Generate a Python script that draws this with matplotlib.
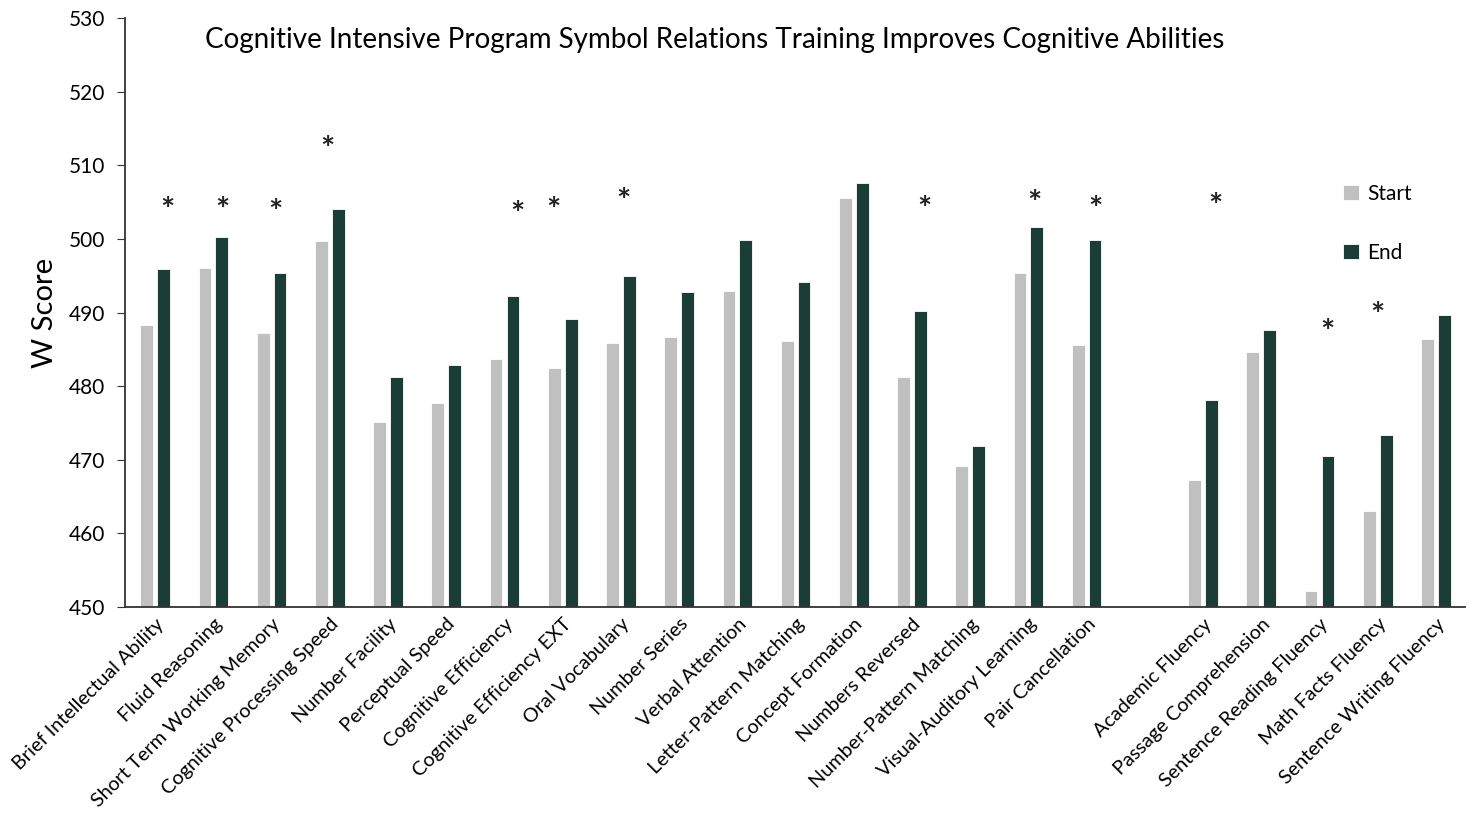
import numpy as np
import matplotlib
matplotlib.use("Agg")
import matplotlib.pyplot as plt

plt.rcParams['font.family'] = ['Lato', 'DejaVu Sans']

categories = ["Brief Intellectual Ability", "Fluid Reasoning", "Short Term Working Memory",
              "Cognitive Processing Speed", "Number Facility", "Perceptual Speed",
              "Cognitive Efficiency", "Cognitive Efficiency EXT", "Oral Vocabulary",
              "Number Series", "Verbal Attention", "Letter-Pattern Matching",
              "Concept Formation", "Numbers Reversed", "Number-Pattern Matching",
              "Visual-Auditory Learning", "Pair Cancellation", "",
              "Academic Fluency", "Passage Comprehension", "Sentence Reading Fluency",
              "Math Facts Fluency", "Sentence Writing Fluency"]

start = [488.3, 496.1, 487.2, 499.7, 475.1, 477.7, 483.7, 482.5, 485.9, 486.7, 492.9,
         486.1, 505.6, 481.3, 469.2, 495.3, 485.6, np.nan,
         467.3, 484.7, 452.2, 463.0, 486.4]
end = [495.9, 500.2, 495.3, 504.1, 481.2, 482.9, 492.2, 489.1, 495.0, 492.8, 499.9,
       494.1, 507.6, 490.2, 471.9, 501.6, 499.8, np.nan,
       478.1, 487.6, 470.5, 473.4, 489.6]

# significance stars: (slot position, height)
star_x = [0.21, 1.15, 2.06, 2.96, 6.22, 6.84, 8.04, 13.21, 15.10, 16.15, 18.21, 20.14, 21.0]
star_y = [503.7, 503.7, 503.4, 512.0, 503.2, 503.7, 504.9, 503.9, 504.6, 503.9, 504.3, 487.1, 489.5]

gray = '#BFC0BF'
green = '#1A3D35'

fig = plt.figure(figsize=(14.7, 8.17), dpi=100)
ax = fig.add_axes([0.085, 0.257, 0.9116, 0.721])

x = np.arange(len(categories))
w = 0.22
ax.bar(x - 0.145, start, w, color=gray, edgecolor='white', linewidth=0.6, label='Start')
ax.bar(x + 0.145, end, w, color=green, edgecolor='white', linewidth=0.6, label='End')

for sx, sy in zip(star_x, star_y):
    ax.text(sx, sy, '*', ha='center', va='center', fontsize=24, fontweight='bold', color='#222222')

ax.set_ylim(450, 530)
ax.set_xlim(-0.52, 22.5)
ax.set_yticks(np.arange(450, 531, 10))
ax.set_xticks(x)
ax.set_xticklabels(categories, rotation=45, ha='right', rotation_mode='anchor', fontsize=14.3)
ax.tick_params(axis='x', length=0, pad=6)
ax.tick_params(axis='y', labelsize=15, length=6, direction='out', color='#333333', pad=8)
for s in ['top', 'right']:
    ax.spines[s].set_visible(False)
for s in ['left', 'bottom']:
    ax.spines[s].set_color('#333333')
    ax.spines[s].set_linewidth(1.3)

ax.set_ylabel('W Score', fontsize=21, labelpad=8)
ax.set_title('Cognitive Intensive Program Symbol Relations Training Improves Cognitive Abilities',
             fontsize=20, x=0.44, y=0.935)

ax.legend(loc='upper left', bbox_to_anchor=(0.895, 0.75), frameon=False, fontsize=15,
          handlelength=0.75, handleheight=0.75, handletextpad=0.4, labelspacing=1.85)

fig.savefig('out.png', dpi=100)
